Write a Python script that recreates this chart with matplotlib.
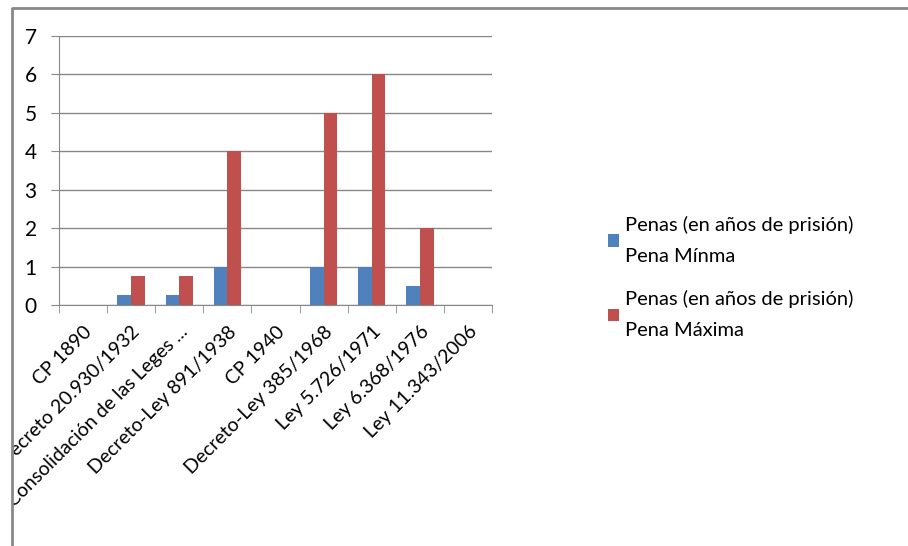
import matplotlib.pyplot as plt
import numpy as np
from matplotlib.patches import Rectangle
from matplotlib.lines import Line2D

plt.rcParams['font.family'] = ['Lato', 'DejaVu Sans']

categorias = ['CP 1890', 'Decreto 20.930/1932', 'Consolidación de las Leges ...',
              'Decreto-Ley 891/1938', 'CP 1940', 'Decreto-Ley 385/1968',
              'Ley 5.726/1971', 'Ley 6.368/1976', 'Ley 11.343/2006']
pena_minima = [0, 0.25, 0.25, 1, 0, 1, 1, 0.5, 0]
pena_maxima = [0, 0.75, 0.75, 4, 0, 5, 6, 2, 0]
serie_labels = ['Penas (en años de prisión)\nPena Mínma',
                'Penas (en años de prisión)\nPena Máxima']

azul = '#4F81BD'
rojo = '#C0504D'
gris = '#888888'
fs = 14

fig = plt.figure(figsize=(9.08, 5.46), dpi=100)
ax = fig.add_axes([59/908, 1-305/546, 433/908, 269/546])

x = np.arange(len(categorias))
w = 0.285
ax.bar(x - w/2, pena_minima, w, color=azul, label=serie_labels[0], zorder=3)
ax.bar(x + w/2, pena_maxima, w, color=rojo, label=serie_labels[1], zorder=3)

ax.set_xlim(-0.5, len(categorias) - 0.5)
ax.set_ylim(0, 7)
ax.set_yticks(range(0, 8))
ax.yaxis.grid(True, color=gris, linewidth=1, zorder=0)

# etiquetas centradas, marcas en los limites de categoria
ax.set_xticks(x)
ax.set_xticklabels(categorias, rotation=45, ha='right', rotation_mode='anchor')
ax.set_xticks(np.arange(-0.5, len(categorias)), minor=True)
ax.tick_params(axis='x', which='major', length=0, pad=13, labelsize=fs)
ax.tick_params(axis='x', which='minor', length=6, color=gris, direction='out')
ax.tick_params(axis='y', length=6, color=gris, labelsize=15, pad=10)

for s in ['top', 'right']:
    ax.spines[s].set_visible(False)
ax.spines['left'].set_color(gris)
ax.spines['bottom'].set_color(gris)

leg = fig.legend(loc='upper left', bbox_to_anchor=(590/908, 1-198/546), frameon=False,
                 fontsize=14.5, handlelength=0.55, handleheight=0.55, handletextpad=0.3,
                 labelspacing=1.25)
for t in leg.get_texts():
    t.set_linespacing(2.0)

# marco del grafico; tapa lo que sobresale a la izquierda
fig.patches.append(Rectangle((0, 0), 12/908, 1, transform=fig.transFigure,
                             facecolor='white', edgecolor='none', zorder=10))
fig.lines.append(Line2D([12/908, 12/908, 1], [0, 1-8/546, 1-8/546],
                        transform=fig.transFigure, color=gris, linewidth=2, zorder=11))

fig.savefig('out.png', dpi=100)
plt.close()
